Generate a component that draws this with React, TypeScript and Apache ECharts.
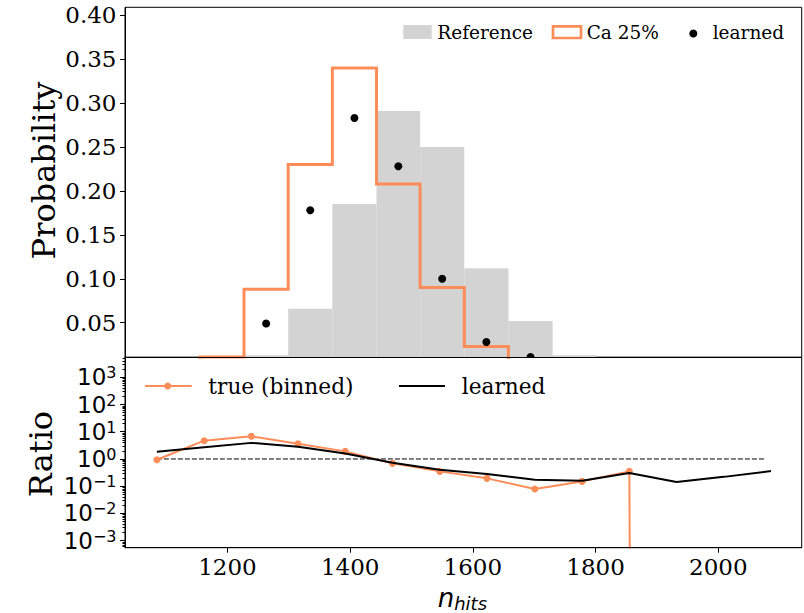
import React, { useEffect, useRef } from "react";
import * as echarts from "echarts";

// Top panel: probability histograms over n_hits bins
const binEdges = [1155, 1227, 1299, 1371, 1443, 1514, 1586, 1658, 1730, 1801];
const referenceProb = [0.0, 0.013, 0.066, 0.185, 0.291, 0.25, 0.112, 0.052, 0.013];
const caProb = [0.011, 0.088, 0.23, 0.34, 0.208, 0.09, 0.023, 0.0, 0.0];
const learnedProb: (number | null)[] = [null, 0.049, 0.178, 0.283, 0.228, 0.1, 0.028, 0.011, null];

// Bottom panel: ratios to the reference, per ratio bin centre
const ratioCenters = [1085, 1162, 1239, 1315, 1392, 1469, 1546, 1623, 1701, 1778, 1855, 1932, 2009, 2086];
const trueRatio = [0.94, 4.7, 6.8, 3.6, 1.9, 0.69, 0.35, 0.194, 0.079, 0.15, 0.35, 0, 0, 0];
const learnedRatio = [1.85, 2.7, 3.9, 2.8, 1.6, 0.73, 0.4, 0.28, 0.173, 0.159, 0.305, 0.143, 0.22, 0.36];
const unityLine = [1085, 2075];

// Tick values
const xTicks = [1200, 1400, 1600, 1800, 2000];
const probTicks = [0.05, 0.1, 0.15, 0.2, 0.25, 0.3, 0.35, 0.4];
const ratioTicks = [1e-3, 1e-2, 1e-1, 1, 10, 100, 1000];

const ORANGE = "#fc8d59";
const GREY = "#d3d3d3";
const SERIF = "DejaVu Serif";
const SANS = "DejaVu Sans";

export default function App() {
  const ref = useRef<HTMLDivElement>(null);

  useEffect(() => {
    const chart = echarts.init(ref.current!, null, { renderer: "svg" });

    const X_MIN = 1033;
    const X_MAX = 2136;

    const refBars = referenceProb.map((p, i) => [binEdges[i], binEdges[i + 1], p]);

    // outline of the stepped histogram
    const caStep: number[][] = [[binEdges[0], 0]];
    caProb.forEach((p, i) => {
      caStep.push([binEdges[i], p], [binEdges[i + 1], p]);
    });
    caStep.push([binEdges[binEdges.length - 1], 0]);

    const learnedPts = learnedProb
      .map((p, i) => [(binEdges[i] + binEdges[i + 1]) / 2, p])
      .filter((d) => d[1] != null);

    // zero ratios sit far below the log axis, as a clipped log scale would place them
    const LOG_FLOOR = 1e-300;
    const truePts = ratioCenters.map((x, i) => [x, trueRatio[i] > 0 ? trueRatio[i] : LOG_FLOOR]);
    const learnedRatioPts = ratioCenters.map((x, i) => [x, learnedRatio[i]]);

    const supLabel = (v: number) => {
      const e = Math.round(Math.log10(v));
      return `{b|10}{s|${e < 0 ? "\u2212" + -e : e}}`;
    };

    const gridRect = (params: any) => ({
      x: params.coordSys.x,
      y: params.coordSys.y,
      width: params.coordSys.width,
      height: params.coordSys.height,
    });

    chart.setOption({
      animation: false,
      backgroundColor: "#fff",
      grid: [
        { left: 125, right: 2.3, top: 7.3, height: 350, show: true, borderColor: "#000", borderWidth: 1, backgroundColor: "transparent" },
        { left: 125, right: 2.3, top: 357.3, height: 190.4, show: true, borderColor: "#000", borderWidth: 1, backgroundColor: "transparent" },
      ],
      xAxis: [
        {
          type: "value",
          gridIndex: 0,
          min: X_MIN,
          max: X_MAX,
          z: 10,
          axisLine: { show: true, lineStyle: { color: "#000", width: 1 } },
          axisTick: { show: false },
          axisLabel: { show: false },
          splitLine: { show: false },
        },
        {
          type: "value",
          gridIndex: 1,
          min: X_MIN,
          max: X_MAX,
          z: 10,
          axisLine: { show: true, lineStyle: { color: "#000", width: 1 } },
          axisTick: { show: true, length: 5, customValues: xTicks, lineStyle: { color: "#000" } },
          axisLabel: {
            customValues: xTicks,
            formatter: (v: number) => String(v),
            fontFamily: SERIF,
            fontSize: 23,
            color: "#000",
            margin: 8,
          },
          splitLine: { show: false },
        },
      ],
      yAxis: [
        {
          type: "value",
          gridIndex: 0,
          min: 0.0106,
          max: 0.409,
          z: 10,
          axisLine: { show: true, lineStyle: { color: "#000", width: 1 } },
          axisTick: { show: true, length: 5, customValues: probTicks, lineStyle: { color: "#000" } },
          axisLabel: {
            customValues: probTicks,
            formatter: (v: number) => v.toFixed(2),
            fontFamily: SERIF,
            fontSize: 23,
            color: "#000",
            margin: 8.5,
          },
          splitLine: { show: false },
        },
        {
          type: "log",
          logBase: 10,
          gridIndex: 1,
          min: 5.5e-4,
          max: 5430,
          z: 10,
          axisLine: { show: true, lineStyle: { color: "#000", width: 1 } },
          axisTick: { show: true, length: 5, customValues: ratioTicks, lineStyle: { color: "#000" } },
          minorTick: { show: true, splitNumber: 9, length: 2.5, lineStyle: { color: "#000" } },
          axisLabel: {
            customValues: ratioTicks,
            formatter: supLabel,
            margin: 8.5,
            rich: {
              b: { fontFamily: SANS, fontSize: 23, color: "#000" },
              s: { fontFamily: SANS, fontSize: 16, color: "#000", padding: [0, 0, 9, 0] },
            },
          },
          splitLine: { show: false },
        },
      ],
      series: [
        {
          name: "Reference",
          type: "custom",
          xAxisIndex: 0,
          yAxisIndex: 0,
          data: refBars,
          encode: { x: [0, 1], y: 2 },
          z: 1,
          renderItem: (params: any, api: any) => {
            const lo = api.coord([api.value(0), api.value(2)]);
            const hi = api.coord([api.value(1), 0]);
            const rect = echarts.graphic.clipRectByRect(
              { x: lo[0], y: lo[1], width: hi[0] - lo[0], height: hi[1] - lo[1] },
              gridRect(params)
            );
            return rect && { type: "rect", shape: rect, style: { fill: GREY } };
          },
        },
        {
          name: "Ca 25%",
          type: "line",
          xAxisIndex: 0,
          yAxisIndex: 0,
          data: caStep,
          showSymbol: false,
          clip: true,
          z: 3,
          lineStyle: { color: ORANGE, width: 3, join: "miter" },
        },
        {
          name: "learned",
          type: "custom",
          xAxisIndex: 0,
          yAxisIndex: 0,
          data: learnedPts,
          encode: { x: 0, y: 1 },
          z: 4,
          renderItem: (params: any, api: any) => {
            const p = api.coord([api.value(0), api.value(1)]);
            return {
              type: "circle",
              shape: { cx: p[0], cy: p[1], r: 4 },
              style: { fill: "#000" },
              clipPath: { type: "rect", shape: gridRect(params) },
            };
          },
        },
        {
          name: "unity",
          type: "line",
          xAxisIndex: 1,
          yAxisIndex: 1,
          data: unityLine.map((x) => [x, 1]),
          showSymbol: false,
          z: 2,
          lineStyle: { color: "#000", width: 1, type: [5, 2] },
        },
        {
          name: "true (binned)",
          type: "line",
          xAxisIndex: 1,
          yAxisIndex: 1,
          data: truePts,
          clip: true,
          symbol: "circle",
          symbolSize: 7,
          showSymbol: true,
          z: 3,
          itemStyle: { color: ORANGE },
          lineStyle: { color: ORANGE, width: 2 },
        },
        {
          name: "learned ratio",
          type: "line",
          xAxisIndex: 1,
          yAxisIndex: 1,
          data: learnedRatioPts,
          clip: true,
          showSymbol: false,
          z: 4,
          lineStyle: { color: "#000", width: 2 },
        },
      ],
      graphic: [
        // top legend
        { type: "rect", shape: { x: 403.3, y: 25, width: 28.4, height: 14 }, style: { fill: GREY } },
        { type: "text", x: 437.3, y: 32.5, style: { text: "Reference", font: `18.5px '${SERIF}'`, fill: "#000", verticalAlign: "middle" } },
        { type: "rect", shape: { x: 553, y: 26.3, width: 28, height: 11.7 }, style: { fill: "#fff", stroke: ORANGE, lineWidth: 2.7 } },
        { type: "text", x: 586.7, y: 32.5, style: { text: "Ca 25%", font: `18.5px '${SERIF}'`, fill: "#000", verticalAlign: "middle" } },
        { type: "circle", shape: { cx: 693.3, cy: 33.5, r: 4 }, style: { fill: "#000" } },
        { type: "text", x: 712.7, y: 32.5, style: { text: "learned", font: `18.5px '${SERIF}'`, fill: "#000", verticalAlign: "middle" } },
        // bottom legend
        { type: "line", shape: { x1: 145, y1: 386, x2: 191.7, y2: 386 }, style: { stroke: ORANGE, lineWidth: 2 } },
        { type: "circle", shape: { cx: 167.7, cy: 386, r: 3.5 }, style: { fill: ORANGE } },
        { type: "text", x: 208.3, y: 386, style: { text: "true (binned)", font: `21.7px '${SERIF}'`, fill: "#000", verticalAlign: "middle" } },
        { type: "line", shape: { x1: 399, y1: 386, x2: 445, y2: 386 }, style: { stroke: "#000", lineWidth: 2 } },
        { type: "text", x: 461.7, y: 386, style: { text: "learned", font: `21.7px '${SERIF}'`, fill: "#000", verticalAlign: "middle" } },
        // axis titles
        {
          type: "text",
          x: 43.5,
          y: 170.5,
          rotation: Math.PI / 2,
          style: { text: "Probability", font: `32px '${SERIF}'`, fill: "#000", align: "center", verticalAlign: "middle" },
        },
        {
          type: "text",
          x: 40.5,
          y: 454,
          rotation: Math.PI / 2,
          style: { text: "Ratio", font: `32px '${SERIF}'`, fill: "#000", align: "center", verticalAlign: "middle" },
        },
        {
          type: "text",
          x: 462.4,
          y: 598,
          style: {
            text: "{n|n}{s|hits}",
            align: "center",
            verticalAlign: "middle",
            rich: {
              n: { fontFamily: SANS, fontStyle: "italic", fontSize: 26, fill: "#000" },
              s: { fontFamily: SANS, fontStyle: "italic", fontSize: 18, fill: "#000", padding: [10, 0, 0, 0] },
            },
          },
        },
      ],
    });

    return () => chart.dispose();
  }, []);

  return <div ref={ref} style={{ position: "absolute", left: 0, top: 0, width: 804, height: 613 }} />;
}
